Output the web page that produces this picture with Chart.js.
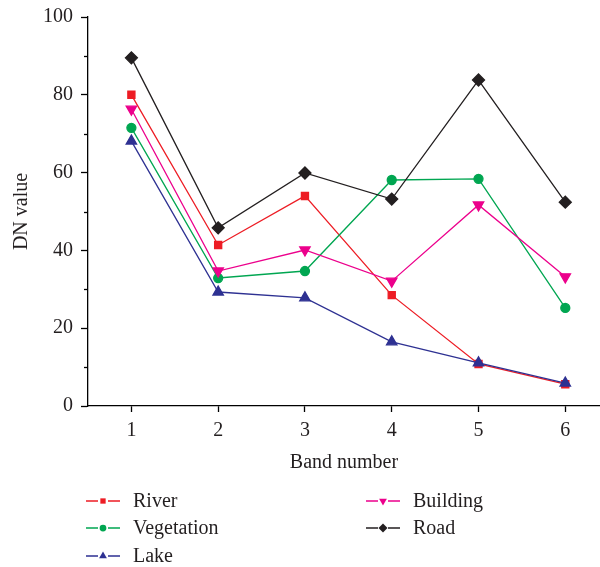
<!DOCTYPE html>
<html><head><meta charset="utf-8">
<script src="https://cdn.jsdelivr.net/npm/chart.js@4"></script>
<style>html,body{margin:0;padding:0;background:#fff}#wrap{width:600px;height:567px;position:relative}</style>
</head><body><div id="wrap"><canvas id="c" width="600" height="567"></canvas></div>
<script>
const bands = [1, 2, 3, 4, 5, 6];
const yTicks = [0, 20, 40, 60, 80, 100];
const river = [80.0, 41.4, 54.0, 28.5, 10.8, 5.6];
const vegetation = [71.5, 32.9, 34.7, 58.1, 58.4, 25.2];
const lake = [68.1, 29.3, 27.8, 16.5, 11.1, 5.9];
const building = [76.3, 34.7, 40.1, 32.1, 51.7, 33.2];
const road = [89.5, 45.8, 59.9, 53.2, 83.8, 52.4];
const names = ['River', 'Vegetation', 'Lake', 'Building', 'Road'];

const FONT = "'Liberation Serif', 'DejaVu Serif', serif";
const FS = 20;
const pts = arr => bands.map((b, i) => ({x: b, y: arr[i]}));
function ds(label, data, color, style, radius, rot, order) {
  return {label, data: pts(data), borderColor: color, backgroundColor: color,
    pointBorderColor: color, pointBackgroundColor: color, pointStyle: style,
    pointRadius: radius, pointRotation: rot, pointHoverRadius: radius, borderWidth: 1.3,
    tension: 0, order, clip: false};
}
const datasets = [
  ds(names[0], river, '#ed1c24', 'rect', 5, 0, 4),
  ds(names[1], vegetation, '#00a651', 'circle', 4.5, 0, 3),
  ds(names[2], lake, '#2e3192', 'triangle', 6, 0, 1),
  ds(names[3], building, '#ec008c', 'triangle', 6, 180, 2),
  ds(names[4], road, '#231f20', 'rectRot', 6, 0, 0)
];

const minorTicks = {
  id: 'minorTicks',
  afterDraw(chart) {
    const ctx = chart.ctx, y = chart.scales.y;
    ctx.save(); ctx.strokeStyle = '#000'; ctx.lineWidth = 1.3;
    for (let v = 10; v < 100; v += 20) {
      const py = Math.round(y.getPixelForValue(v)) + 0.5;
      ctx.beginPath(); ctx.moveTo(y.right - 4, py); ctx.lineTo(y.right, py); ctx.stroke();
    }
    ctx.restore();
  }
};

const legendPlugin = {
  id: 'customLegend',
  afterDraw(chart) {
    const ctx = chart.ctx;
    const cols = [86, 366], rows = [501, 528, 556];
    const layout = [[0,0],[0,1],[0,2],[1,0],[1,1]];
    ctx.save();
    chart.data.datasets.forEach((d, i) => {
      const [c, r] = layout[i];
      const x = cols[c], y = rows[r];
      ctx.strokeStyle = d.borderColor; ctx.lineWidth = 1.3;
      ctx.beginPath(); ctx.moveTo(x, y); ctx.lineTo(x + 12, y); ctx.moveTo(x + 22, y); ctx.lineTo(x + 34, y); ctx.stroke();
      ctx.fillStyle = d.backgroundColor;
      Chart.helpers.drawPoint(ctx, {pointStyle: d.pointStyle, rotation: d.pointRotation,
        radius: d.pointRadius * 0.75, borderWidth: 0}, x + 17, y);
      ctx.fillStyle = '#231f20'; ctx.font = FS + 'px ' + FONT; ctx.textBaseline = 'middle';
      ctx.fillText(d.label, x + 47, y + 1);
    });
    ctx.restore();
  }
};

new Chart(document.getElementById('c'), {
  type: 'line',
  data: {datasets},
  plugins: [minorTicks, legendPlugin],
  options: {
    responsive: false, animation: false,
    layout: {autoPadding: false, padding: {left: 0, right: 0, top: 17, bottom: 92}},
    plugins: {legend: {display: false}, tooltip: {enabled: false}},
    scales: {
      x: {type: 'linear', min: 0.5, max: 6.4,
        afterBuildTicks: s => { s.ticks = bands.map(v => ({value: v})); },
        afterFit: s => { s.height = 69; s.paddingRight = 0; s.paddingLeft = 0; },
        border: {display: true, color: '#000', width: 1.3},
        grid: {display: true, drawOnChartArea: false, drawTicks: true, tickLength: 6, tickColor: '#000', tickWidth: 1.3},
        ticks: {color: '#231f20', font: {family: FONT, size: FS}, padding: 7, maxRotation: 0,
          callback: v => String(v)},
        title: {display: true, text: 'Band number', color: '#231f20', font: {family: FONT, size: FS}, padding: {top: 0, bottom: 0}}
      },
      y: {type: 'linear', min: 0, max: 100,
        afterBuildTicks: s => { s.ticks = yTicks.map(v => ({value: v})); },
        afterFit: s => { s.width = 88; s.paddingTop = 0; s.paddingBottom = 0; },
        border: {display: true, color: '#000', width: 1.3},
        grid: {display: true, drawOnChartArea: false, drawTicks: true, tickLength: 7, tickColor: '#000', tickWidth: 1.3},
        ticks: {color: '#231f20', font: {family: FONT, size: FS}, padding: 8},
        title: {display: true, text: 'DN value', color: '#231f20', font: {family: FONT, size: FS}, padding: {top: 10, bottom: 0}}
      }
    }
  }
});
</script></body></html>
